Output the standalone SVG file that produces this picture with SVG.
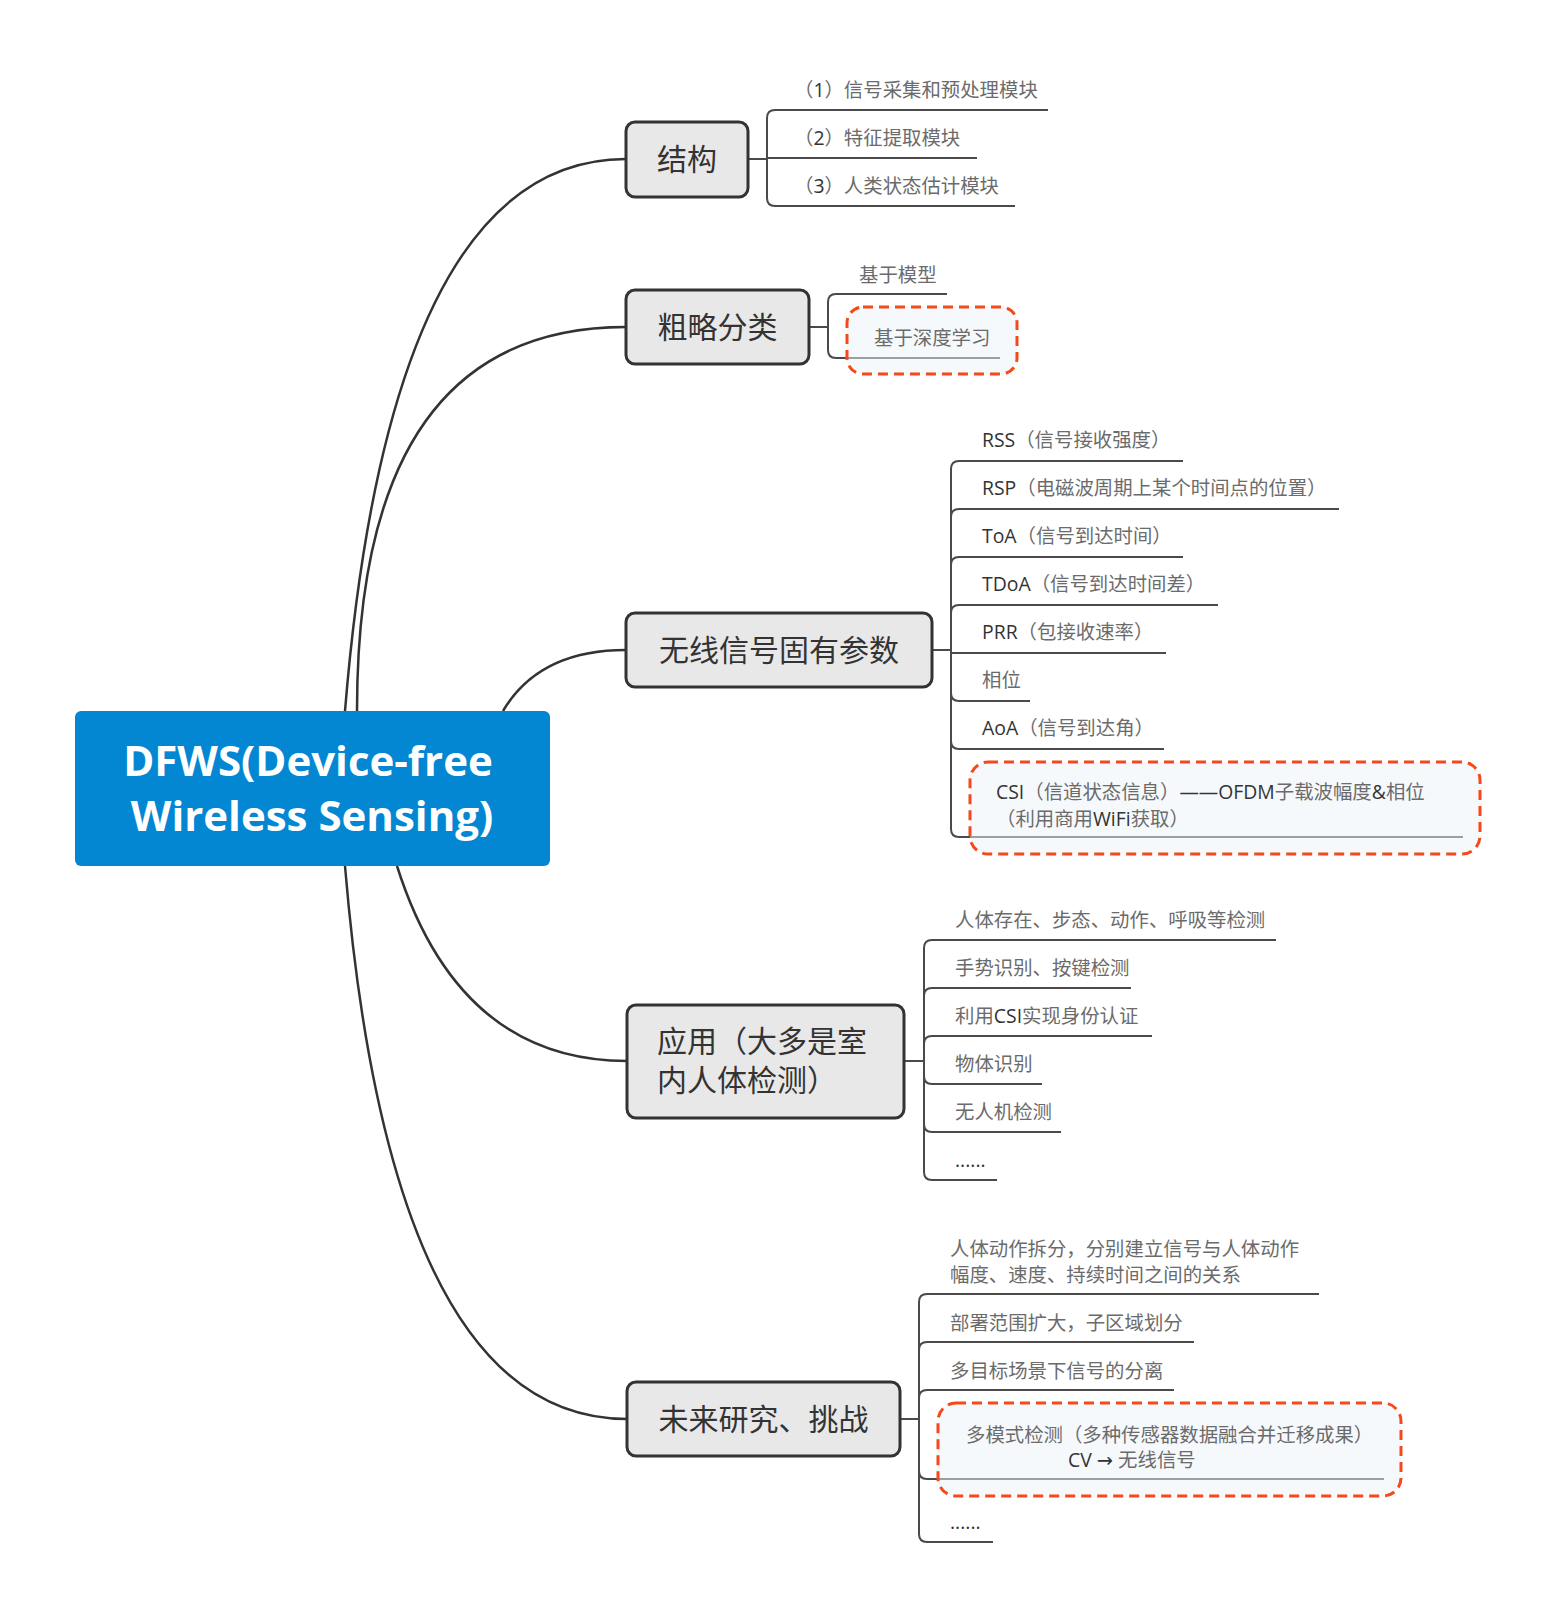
<svg xmlns="http://www.w3.org/2000/svg" width="1554" height="1618" viewBox="0 0 1554 1618">
<style>
.box{fill:#e8e8e8;stroke:#333;stroke-width:3}
.bt{font-family:"Noto Sans CJK SC",sans-serif;font-size:30px;fill:#333}
.t{font-family:"Noto Sans CJK SC",sans-serif;font-size:19.4px;fill:#6b6b6b}
.l{font-family:"Open Sans","DejaVu Sans",sans-serif;fill:#333}
.call{fill:#eef4fa;fill-opacity:.5;stroke:#f5491b;stroke-width:3;stroke-dasharray:10 6}
.cn{fill:none;stroke:#333;stroke-width:2.5}
.br{fill:none;stroke:#4a4a4a;stroke-width:2}
.root{font-family:"Open Sans",sans-serif;font-weight:bold;font-size:42px;fill:#fff}
</style>
<rect width="1554" height="1618" fill="#fff"/>
<g id="connectors">
<path class="cn" d="M345,711 Q390,159 626,159"/>
<path class="cn" d="M357,711 Q357,327 626,327"/>
<path class="cn" d="M503,711 Q539,650 626,650"/>
<path class="cn" d="M397,866 Q459,1061 627,1061"/>
<path class="cn" d="M345,866 Q391,1419 627,1419"/>
<g class="br">
<path d="M748,159 H767"/>
<path d="M767,159 V118 Q767,110 775,110 H1048"/>
<path d="M767,159 V158 H977"/>
<path d="M767,159 V198 Q767,206 775,206 H1015"/>
<path d="M809,327 H828"/>
<path d="M828,327 V302 Q828,294 836,294 H947"/>
<path d="M828,327 V350 Q828,358 836,358 H1000"/>
<path d="M932,650 H951"/>
<path d="M951,650 V469 Q951,461 959,461 H1183"/>
<path d="M951,650 V517 Q951,509 959,509 H1339"/>
<path d="M951,650 V565 Q951,557 959,557 H1183"/>
<path d="M951,650 V613 Q951,605 959,605 H1218"/>
<path d="M951,650 V653 H1166"/>
<path d="M951,650 V693 Q951,701 959,701 H1030"/>
<path d="M951,650 V741 Q951,749 959,749 H1164"/>
<path d="M951,650 V829 Q951,837 959,837 H1463"/>
<path d="M904,1061 H924"/>
<path d="M924,1061 V948 Q924,940 932,940 H1276"/>
<path d="M924,1061 V996 Q924,988 932,988 H1131"/>
<path d="M924,1061 V1044 Q924,1036 932,1036 H1152"/>
<path d="M924,1061 V1076 Q924,1084 932,1084 H1042"/>
<path d="M924,1061 V1124 Q924,1132 932,1132 H1061"/>
<path d="M924,1061 V1172 Q924,1180 932,1180 H997"/>
<path d="M900,1419 H919"/>
<path d="M919,1419 V1302 Q919,1294 927,1294 H1319"/>
<path d="M919,1419 V1350 Q919,1342 927,1342 H1194"/>
<path d="M919,1419 V1398 Q919,1390 927,1390 H1174"/>
<path d="M919,1419 V1471 Q919,1479 927,1479 H1384"/>
<path d="M919,1419 V1534 Q919,1542 927,1542 H993"/>
</g>
</g>
<g id="root">
<rect x="75" y="711" width="475" height="155" rx="6" fill="#0387d2"/>
<text class="root" x="308" y="776" text-anchor="middle">DFWS(Device-free</text>
<text class="root" x="312" y="831" text-anchor="middle">Wireless Sensing)</text>
</g>
<g id="n-jiegou">
<rect class="box" x="626" y="122" width="122" height="75" rx="9"/>
<text class="bt" x="687" y="170" text-anchor="middle">结构</text>
</g>
<g id="n-jiegou-1"><text class="t" x="794" y="97">（<tspan class="l">1</tspan>）信号采集和预处理模块</text></g>
<g id="n-jiegou-2"><text class="t" x="794" y="145">（<tspan class="l">2</tspan>）特征提取模块</text></g>
<g id="n-jiegou-3"><text class="t" x="794" y="193">（<tspan class="l">3</tspan>）人类状态估计模块</text></g>
<g id="n-fenlei">
<rect class="box" x="626" y="290" width="183" height="74" rx="9"/>
<text class="bt" x="717.5" y="338" text-anchor="middle">粗略分类</text>
</g>
<g id="n-fenlei-1"><text class="t" x="859" y="282">基于模型</text></g>
<g id="n-fenlei-2">
<rect class="call" x="847" y="307" width="170" height="67" rx="16"/>
<text class="t" x="874" y="345">基于深度学习</text>
</g>
<g id="n-canshu">
<rect class="box" x="626" y="613" width="306" height="74" rx="9"/>
<text class="bt" x="779" y="661" text-anchor="middle">无线信号固有参数</text>
</g>
<g id="n-rss"><text class="t" x="982" y="447"><tspan class="l">RSS</tspan>（信号接收强度）</text></g>
<g id="n-rsp"><text class="t" x="982" y="495"><tspan class="l">RSP</tspan>（电磁波周期上某个时间点的位置）</text></g>
<g id="n-toa"><text class="t" x="982" y="543"><tspan class="l">ToA</tspan>（信号到达时间）</text></g>
<g id="n-tdoa"><text class="t" x="982" y="591"><tspan class="l">TDoA</tspan>（信号到达时间差）</text></g>
<g id="n-prr"><text class="t" x="982" y="639"><tspan class="l">PRR</tspan>（包接收速率）</text></g>
<g id="n-phase"><text class="t" x="982" y="687">相位</text></g>
<g id="n-aoa"><text class="t" x="982" y="735"><tspan class="l">AoA</tspan>（信号到达角）</text></g>
<g id="n-csi">
<rect class="call" x="970" y="762" width="510" height="92" rx="18"/>
<text class="t" x="996" y="799"><tspan class="l">CSI</tspan>（信道状态信息）<tspan class="l">——OFDM</tspan>子载波幅度<tspan class="l">&amp;</tspan>相位</text>
<text class="t" x="996" y="826">（利用商用<tspan class="l">WiFi</tspan>获取）</text>
</g>
<g id="n-yingyong">
<rect class="box" x="627" y="1005" width="277" height="113" rx="9"/>
<text class="bt" x="657" y="1052">应用（大多是室</text>
<text class="bt" x="657" y="1091">内人体检测）</text>
</g>
<g id="n-yy-1"><text class="t" x="955" y="927">人体存在、步态、动作、呼吸等检测</text></g>
<g id="n-yy-2"><text class="t" x="955" y="975">手势识别、按键检测</text></g>
<g id="n-yy-3"><text class="t" x="955" y="1023">利用<tspan class="l">CSI</tspan>实现身份认证</text></g>
<g id="n-yy-4"><text class="t" x="955" y="1071">物体识别</text></g>
<g id="n-yy-5"><text class="t" x="955" y="1119">无人机检测</text></g>
<g id="n-yy-6"><text class="t l" x="955" y="1167">......</text></g>
<g id="n-weilai">
<rect class="box" x="627" y="1382" width="273" height="74" rx="9"/>
<text class="bt" x="763.5" y="1430" text-anchor="middle">未来研究、挑战</text>
</g>
<g id="n-wl-1">
<text class="t" x="950" y="1256">人体动作拆分，分别建立信号与人体动作</text>
<text class="t" x="950" y="1282">幅度、速度、持续时间之间的关系</text>
</g>
<g id="n-wl-2"><text class="t" x="950" y="1330">部署范围扩大，子区域划分</text></g>
<g id="n-wl-3"><text class="t" x="950" y="1378">多目标场景下信号的分离</text></g>
<g id="n-wl-4">
<rect class="call" x="938" y="1403" width="463" height="93" rx="18"/>
<text class="t" x="966" y="1442">多模式检测（多种传感器数据融合并迁移成果）</text>
<text class="t" x="1068" y="1467"><tspan class="l">CV → </tspan>无线信号</text>
</g>
<g id="n-wl-5"><text class="t l" x="950" y="1529">......</text></g>
</svg>
